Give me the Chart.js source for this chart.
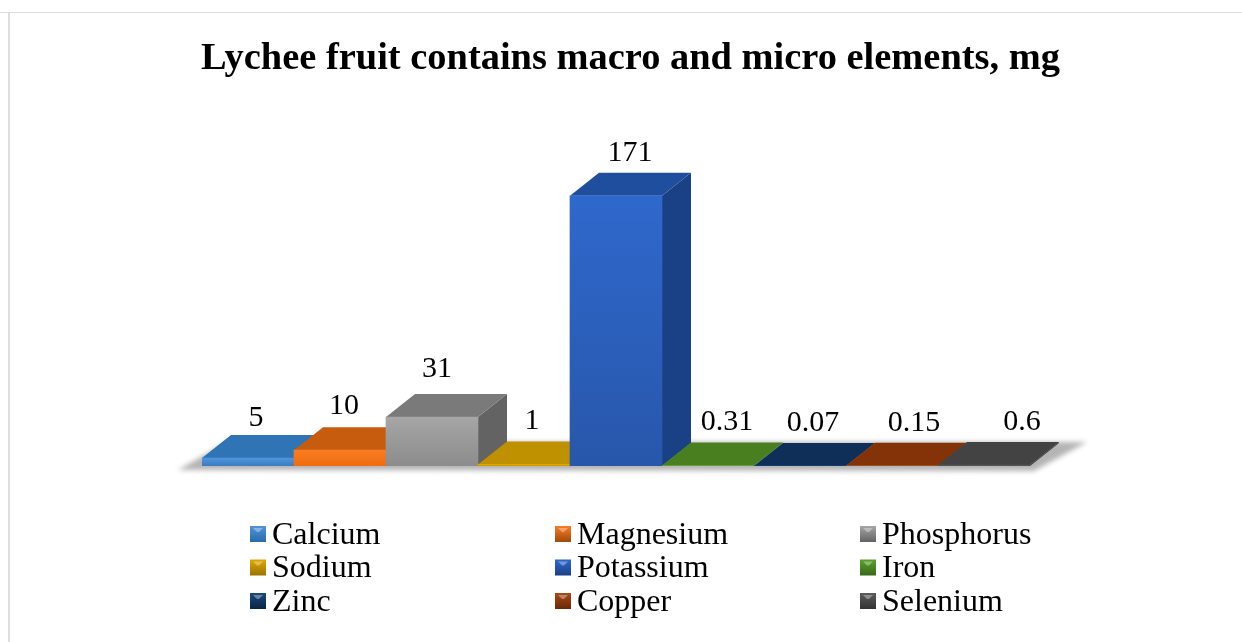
<!DOCTYPE html>
<html lang="en">
<head>
  <meta charset="UTF-8">
  <title>Lychee fruit contains macro and micro elements, mg</title>
  <script src="https://cdn.jsdelivr.net/npm/chart.js"></script>
  <style>
    html, body { margin: 0; padding: 0; background: #fff; }
    canvas { display: block; }
  </style>
</head>
<body>
  <canvas id="chart" width="1242" height="642"></canvas>
  <script>
    const elements = ['Calcium', 'Magnesium', 'Phosphorus', 'Sodium', 'Potassium', 'Iron', 'Zinc', 'Copper', 'Selenium'];
    const amounts = [5, 10, 31, 1, 171, 0.31, 0.07, 0.15, 0.6];
    const amountLabels = ['5', '10', '31', '1', '171', '0.31', '0.07', '0.15', '0.6'];

    // colours of each box: front (light, dark), top, side
    const frontLight = ['#4f94dc', '#fa7d22', '#a6a6a6', '#e0a800', '#2f68cc', '#5aa02c', '#1a4a80', '#a84a14', '#5c5c5c'];
    const frontDark = ['#3b7cc0', '#ef6c10', '#8c8c8c', '#c49400', '#2757ab', '#4a8424', '#123a68', '#8c3c0c', '#484848'];
    const topColors = ['#2f75b5', '#c85c0e', '#7a7a7a', '#bf9000', '#1f4e9e', '#4a7f20', '#0f2f58', '#843308', '#434343'];
    const sideColors = ['#2a6ca8', '#a04a0c', '#636363', '#9a7400', '#1a4085', '#3c681a', '#0b2545', '#6a2806', '#333333'];

    const depthX = 29, depthY = 23;
    // the labels sit a little off the box centres in the original
    const labelNudge = [8, 4, 5, 8, 14, 19, 13, 22, 38];
    const labelGap = [17, 21, 25, 20, 20, 20, 20, 20, 20];
    const serif = '"Liberation Serif", "Times New Roman", serif';

    function poly(ctx, pts, fill) {
      ctx.beginPath();
      pts.forEach((p, i) => i ? ctx.lineTo(p[0], p[1]) : ctx.moveTo(p[0], p[1]));
      ctx.closePath();
      ctx.fillStyle = fill;
      ctx.fill();
    }

    // chart.js has no 3D bars any more, so the floor, top and side faces are added around the real bars
    const boxes = {
      id: 'boxes',
      afterLayout(chart) {
        chart.titleBlock.left = 201;
        chart.titleBlock.right = 1060;
      },
      beforeDraw(chart) {
        const ctx = chart.ctx;
        ctx.save();
        ctx.fillStyle = '#dedede';
        ctx.fillRect(0, 12, chart.width, 1);
        ctx.fillRect(8, 12, 2, chart.height - 12);
        ctx.restore();
      },
      beforeDatasetsDraw(chart) {
        const ctx = chart.ctx, a = chart.chartArea;
        const base = chart.scales.y.getPixelForValue(0);
        ctx.save();
        ctx.filter = 'blur(2.5px)';
        poly(ctx, [
          [a.left - 24, base + 4], [a.left + depthX - 4, base - depthY - 1],
          [a.right + depthX + 28, base - depthY - 1], [a.right + 4, base + 5]
        ], '#b4b4b4');
        ctx.filter = 'none';
        // tops and sides go under the fronts, so a taller box hides the floor of its neighbour
        chart.getDatasetMeta(0).data.forEach((bar, i) => {
          const l = bar.x - bar.width / 2, r = bar.x + bar.width / 2;
          const t = bar.y, b = bar.base;
          poly(ctx, [[r, t], [r + depthX, t - depthY], [r + depthX, b - depthY], [r, b]], sideColors[i]);
          poly(ctx, [[l, t], [l + depthX, t - depthY], [r + depthX, t - depthY], [r, t]], topColors[i]);
        });
        ctx.restore();
      },
      afterDatasetsDraw(chart) {
        const ctx = chart.ctx;
        ctx.save();
        ctx.fillStyle = '#000';
        ctx.font = '30px ' + serif;
        ctx.textAlign = 'center';
        ctx.textBaseline = 'middle';
        chart.getDatasetMeta(0).data.forEach((bar, i) => {
          ctx.fillText(amountLabels[i], bar.x + labelNudge[i], bar.y - depthY - labelGap[i]);
        });
        ctx.restore();
      },
      afterDraw(chart) {
        const ctx = chart.ctx;
        ctx.save();
        ctx.font = '32px ' + serif;
        ctx.textBaseline = 'middle';
        ctx.textAlign = 'left';
        elements.forEach((name, i) => {
          const x = 250 + (i % 3) * 305, y = 534 + Math.floor(i / 3) * 33.5;
          const g = ctx.createLinearGradient(0, y - 8, 0, y + 8);
          g.addColorStop(0, frontLight[i]);
          g.addColorStop(1, sideColors[i]);
          ctx.fillStyle = g;
          ctx.fillRect(x, y - 8, 16, 16);
          poly(ctx, [[x + 3, y - 6], [x + 13, y - 6], [x + 9, y - 2], [x + 7, y - 2]], 'rgba(255,255,255,0.35)');
          ctx.fillStyle = '#000';
          ctx.fillText(name, x + 22, y + 1.5);
        });
        ctx.restore();
      }
    };

    new Chart(document.getElementById('chart'), {
      type: 'bar',
      data: {
        labels: elements,
        datasets: [{
          data: amounts,
          barPercentage: 1,
          categoryPercentage: 1,
          borderWidth: 0,
          backgroundColor(c) {
            const y = c.chart.scales.y;
            if (!y || c.dataIndex === undefined) return frontDark[0];
            const top = y.getPixelForValue(amounts[c.dataIndex]), bottom = y.getPixelForValue(0);
            if (!Number.isFinite(top) || !Number.isFinite(bottom)) return frontDark[c.dataIndex];
            const g = c.chart.ctx.createLinearGradient(0, top, 0, bottom);
            g.addColorStop(0, frontLight[c.dataIndex]);
            g.addColorStop(1, frontDark[c.dataIndex]);
            return g;
          }
        }]
      },
      options: {
        responsive: false,
        animation: false,
        layout: { padding: { left: 202, right: 212, top: 0, bottom: 176 } },
        scales: {
          x: { display: false },
          y: { display: false, min: 0, max: 200 }
        },
        plugins: {
          legend: { display: false },
          tooltip: { enabled: false },
          title: {
            display: true,
            text: 'Lychee fruit contains macro and micro elements, mg',
            color: '#000',
            font: { family: serif, size: 38.5, weight: 'bold' },
            padding: { top: 36, bottom: 67.8 }
          }
        }
      },
      plugins: [boxes]
    });
  </script>
</body>
</html>
